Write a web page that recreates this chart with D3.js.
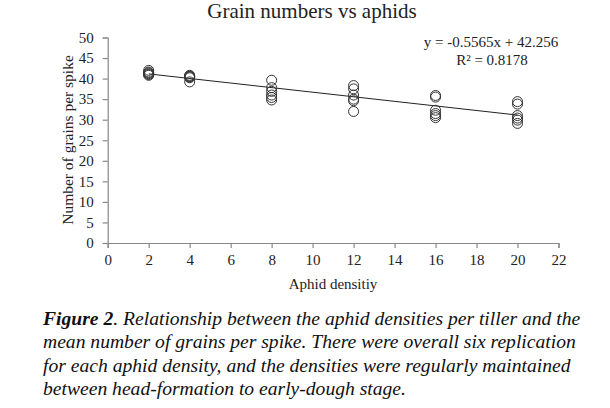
<!DOCTYPE html>
<html><head><meta charset="utf-8">
<script src="https://cdn.jsdelivr.net/npm/d3@7"></script>
<style>body{margin:0;background:#fff}</style>
</head><body>
<svg id="c" width="610" height="408"></svg>
<script>
const densities = [2, 4, 8, 12, 16, 20];
const grains2  = [42.0, 41.6, 41.2, 41.0, 40.8, 41.4];
const grains4  = [40.8, 40.6, 40.5, 40.4, 40.2, 39.2];
const grains8  = [39.6, 37.8, 36.9, 36.0, 35.4, 34.8];
const grains12 = [38.3, 37.5, 36.0, 35.0, 34.6, 32.0];
const grains16 = [35.9, 35.5, 32.3, 31.5, 31.0, 30.5];
const grains20 = [34.4, 33.8, 31.0, 30.4, 29.9, 29.1];
const slope = -0.5565, intercept = 42.256, r2 = "0.8178";
const xTicks = [0,2,4,6,8,10,12,14,16,18,20,22];
const yTicks = [0,5,10,15,20,25,30,35,40,45,50];

const groups = [grains2, grains4, grains8, grains12, grains16, grains20];
const points = [];
densities.forEach((d,i)=>groups[i].forEach(v=>points.push({x:d,y:v})));

const svg = d3.select("#c");
const font = "'Liberation Serif','Times New Roman',serif";
const x = d3.scaleLinear().domain([0,22]).range([107.7,558.5]);
const y = d3.scaleLinear().domain([0,50]).range([243,37.5]);

svg.append("text").attr("x",312).attr("y",18).attr("text-anchor","middle")
  .attr("font-family",font).attr("font-size",21).attr("fill","#222").text("Grain numbers vs aphids");

const xa = svg.append("g").attr("transform","translate(0,243)")
  .call(d3.axisBottom(x).tickValues(xTicks).tickSize(5).tickPadding(6).tickFormat(d3.format("d")));
const ya = svg.append("g").attr("transform","translate(107.7,0)")
  .call(d3.axisLeft(y).tickValues(yTicks).tickSize(5).tickPadding(9).tickFormat(d3.format("d")));
[xa,ya].forEach(a=>{
  a.selectAll("path,line").attr("stroke","#888").attr("stroke-width",1.2);
  a.selectAll("text").attr("font-family",font).attr("font-size",15).attr("fill","#222");
});

svg.append("text").attr("x",333).attr("y",289).attr("text-anchor","middle")
  .attr("font-family",font).attr("font-size",15).attr("fill","#222").text("Aphid densitiy");
svg.append("text").attr("transform","translate(73,140) rotate(-90)").attr("text-anchor","middle")
  .attr("font-family",font).attr("font-size",15.5).attr("fill","#222").text("Number of grains per spike");

svg.append("line")
  .attr("x1",x(2)).attr("y1",y(intercept+slope*2))
  .attr("x2",x(20)).attr("y2",y(intercept+slope*20))
  .attr("stroke","#222").attr("stroke-width",1);

svg.append("g").selectAll("circle").data(points).join("circle")
  .attr("cx",d=>x(d.x)).attr("cy",d=>y(d.y)).attr("r",5)
  .attr("fill","none").attr("stroke","#333").attr("stroke-width",1);

svg.append("text").attr("x",491).attr("y",47).attr("text-anchor","middle")
  .attr("font-family",font).attr("font-size",15).attr("fill","#222")
  .text("y = " + slope + "x + " + intercept);
svg.append("text").attr("x",492).attr("y",65).attr("text-anchor","middle")
  .attr("font-family",font).attr("font-size",15).attr("fill","#222")
  .text("R² = " + r2);

const cap = [
  [["Figure 2",true],[". Relationship between the aphid densities per tiller and the",false]],
  [["mean number of grains per spike. There were overall six replication",false]],
  [["for each aphid density, and the densities were regularly maintained",false]],
  [["between head-formation to early-dough stage.",false]]
];
cap.forEach((line,i)=>{
  const t = svg.append("text").attr("x",43).attr("y",325+i*23.4)
    .attr("font-family",font).attr("font-size",19.6).attr("font-style","italic").attr("fill","#111");
  line.forEach(([s,b])=>t.append("tspan").attr("font-weight",b?"bold":"normal").text(s));
});
</script>
</body></html>
